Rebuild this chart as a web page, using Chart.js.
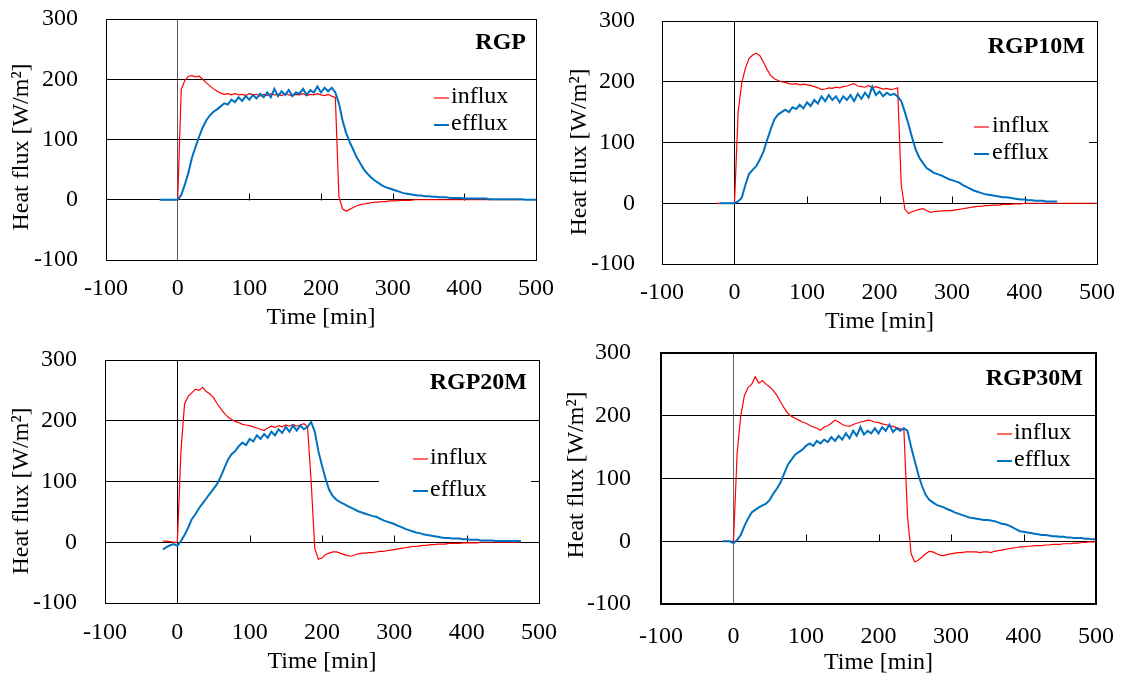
<!DOCTYPE html>
<html>
<head>
<meta charset="utf-8">
<script src="https://cdn.jsdelivr.net/npm/chart.js@4.4.0/dist/chart.umd.min.js"></script>
<style>
html,body{margin:0;padding:0;background:#fff;}
#wrap{position:relative;width:1126px;height:677px;overflow:hidden;}
#wrap canvas{position:absolute;}
</style>
</head>
<body>
<div id="wrap">
  <canvas id="c0"></canvas>
  <canvas id="c1"></canvas>
  <canvas id="c2"></canvas>
  <canvas id="c3"></canvas>
</div>
<script>
// time axis, every 5 min
const minutes = [
  -25,-20,-15,-10,-5,0,5,10,15,20,
  25,30,35,40,45,50,55,60,65,70,
  75,80,85,90,95,100,105,110,115,120,
  125,130,135,140,145,150,155,160,165,170,
  175,180,185,190,195,200,205,210,215,220,
  225,230,235,240,245,250,255,260,265,270,
  275,280,285,290,295,300,305,310,315,320,
  325,330,335,340,345,350,355,360,365,370,
  375,380,385,390,395,400,405,410,415,420,
  425,430,435,440,445,450,455,460,465,470,
  475,480,485,490,495,500
];
const xTicks = [-100,0,100,200,300,400,500];
const yTicks = [-100,0,100,200,300];
const seriesNames = ['influx','efflux'];
const panelNames = ['RGP','RGP10M','RGP20M','RGP30M'];
const xTitle = 'Time [min]';
const yTitle = 'Heat flux [W/m²]';

const rgpInflux = [
  0,0,0,0,0,0,183,198,205,206,
  204,205,200,194,189,184,180,177,175,176,
  174,176,174,175,173,176,174,175,172,175,
  173,176,174,175,173,176,174,173,175,174,
  176,173,175,174,176,174,173,175,172,170,
  5,-15,-19,-16,-13,-10,-8,-7,-6,-5,
  -4,-4,-3,-3,-2,-2,-2,-1,-1,-1,
  -1,0,0,0,0,0,0,0,0,0,
  0,0,0,0,0,0,0,0,0,0,
  0,0,0,0,0,0,0,0,0,0,
  0,0,null,null,null,null
];
const rgpEfflux = [
  0,0,0,0,0,0,8,25,45,70,
  88,105,120,132,140,146,150,155,160,158,
  166,162,170,164,172,166,174,168,176,170,
  178,170,184,172,180,174,182,172,178,176,
  184,174,182,178,188,178,186,180,186,178,
  160,132,111,96,83,70,60,50,43,37,
  32,28,24,21,19,17,15,13,11,10,
  9,8,7,7,6,6,5,5,4,4,
  4,3,3,3,3,2,2,2,2,2,
  2,2,1,1,1,1,1,1,1,1,
  1,1,0,0,0,0
];
const rgp10Influx = [
  0,0,0,0,0,0,150,198,222,238,
  244,247,243,232,220,210,205,202,200,199,
  197,196,197,195,196,195,194,192,190,187,
  188,190,189,191,190,192,193,195,197,193,
  192,191,194,190,192,190,188,189,187,188,
  190,30,-10,-17,-14,-12,-10,-9,-12,-15,
  -14,-13,-13,-12,-12,-12,-11,-10,-9,-8,
  -7,-6,-5,-5,-4,-4,-3,-3,-3,-2,
  -2,-2,-1,-1,-1,0,0,0,0,0,
  0,0,0,0,0,0,0,0,0,0,
  0,0,0,0,0,0
];
const rgp10Efflux = [
  null,0,0,0,0,0,3,9,30,48,
  55,61,72,85,104,122,138,146,150,154,
  150,158,155,162,156,166,160,170,164,176,
  168,178,170,176,166,176,170,178,168,180,
  172,182,174,192,178,184,176,182,178,180,
  176,168,150,130,108,88,75,66,58,54,
  50,48,46,43,40,38,36,34,30,27,
  24,21,19,17,15,14,13,12,11,10,
  10,9,8,7,6,6,5,5,4,4,
  4,3,3,3,3,null,null,null,null,null,
  null,null,null,null,null,null
];
const rgp20Influx = [
  null,2,2,1,0,0,150,228,240,246,
  252,250,255,248,244,238,228,220,212,206,
  202,199,197,194,193,192,190,188,186,184,
  188,191,189,192,190,193,191,194,191,193,
  195,190,100,-10,-28,-26,-20,-18,-16,-16,
  -18,-20,-22,-23,-21,-19,-18,-18,-17,-17,
  -16,-15,-15,-14,-13,-12,-11,-10,-9,-8,
  -7,-7,-6,-5,-5,-4,-4,-3,-3,-3,
  -2,-2,-2,-2,-1,-1,-1,-1,-1,0,
  0,0,0,0,0,0,0,0,0,0,
  0,null,null,null,null,null
];
const rgp20Efflux = [
  null,-12,-8,-5,-3,-6,2,12,24,38,
  46,56,64,72,80,88,96,108,122,136,
  145,150,158,164,160,170,166,176,170,178,
  172,182,176,186,180,190,182,192,184,192,
  186,190,198,182,150,126,104,86,76,70,
  66,63,60,57,54,51,49,47,45,43,
  42,39,36,34,32,30,27,25,22,20,
  18,16,15,13,12,11,10,9,8,7,
  7,6,6,6,5,5,4,4,4,3,
  3,3,3,2,2,2,2,2,2,2,
  2,null,null,null,null,null
];
const rgp30Influx = [
  null,null,0,0,0,0,140,200,232,245,
  250,262,252,256,250,246,240,232,222,212,
  204,199,196,193,190,188,185,182,180,177,
  182,184,188,193,190,186,184,183,186,188,
  190,191,193,192,190,189,187,186,184,183,
  181,179,178,40,-20,-33,-30,-25,-20,-16,
  -17,-20,-22,-23,-21,-20,-19,-18,-18,-17,
  -17,-17,-17,-18,-17,-17,-18,-16,-15,-14,
  -13,-12,-11,-10,-9,-9,-8,-8,-7,-7,
  -7,-6,-6,-5,-5,-5,-4,-4,-4,-3,
  -3,-2,-2,-1,-1,-1
];
const rgp30Efflux = [
  null,null,0,0,0,-3,2,10,24,36,
  46,50,54,57,60,66,76,84,94,108,
  122,130,138,142,146,152,156,152,160,156,
  162,158,166,160,168,162,172,164,176,168,
  182,170,176,172,180,172,182,176,186,174,
  180,176,180,176,150,128,106,88,74,66,
  62,58,56,54,51,49,46,44,42,40,
  38,37,36,35,34,34,33,32,30,28,
  27,25,22,19,16,15,14,13,12,11,
  10,10,9,8,8,7,7,6,6,5,
  5,5,4,4,3,3
];

const FONT = "'Liberation Serif','Times New Roman',serif";
const RED = '#ff0000';
const BLUE = '#0070c0';

// page geometry of each panel (canvas box, plot area, text spots)
const panels = [
  {influx: rgpInflux, efflux: rgpEfflux,
   canvas: [0, 0, 563, 338], area: [106, 19, 536, 260],
   yPad: 28, yTitleAt: [22, 147], xPad: 14.6, xTitlePad: 5.6,
   title: [526, 43], legend: {dash: [434, 449], text: 451, rows: [97, 124], box: [428, 83, 533, 137]},
   frame: 1, axisColor: '#555'},
  {influx: rgp10Influx, efflux: rgp10Efflux,
   canvas: [563, 0, 563, 338], area: [662, 21, 1097, 264],
   yPad: 27, yTitleAt: [580, 152], xPad: 14.6, xTitlePad: 1.6,
   title: [1085, 47], legend: {dash: [974, 989], text: 992, rows: [126, 153], box: [943, 108, 1089, 170]},
   frame: 1, axisColor: '#000'},
  {influx: rgp20Influx, efflux: rgp20Efflux,
   canvas: [0, 338, 563, 339], area: [105, 360, 539, 603],
   yPad: 28, yTitleAt: [22, 491], xPad: 15.6, xTitlePad: 0.6,
   title: [527, 383], legend: {dash: [413, 428], text: 430, rows: [458, 490], box: [379, 440, 531, 508]},
   frame: 1, axisColor: '#000'},
  {influx: rgp30Influx, efflux: rgp30Efflux,
   canvas: [563, 338, 563, 339], area: [661, 353, 1096, 604],
   yPad: 30, yTitleAt: [577, 475], xPad: 18.6, xTitlePad: 0,
   title: [1083, 379], legend: {dash: [997, 1012], text: 1014, rows: [433, 460], box: [990, 419, 1090, 474]},
   frame: 2, axisColor: '#666'}
];

function makeDecor(p, name) {
  const ox = p.canvas[0], oy = p.canvas[1];
  return {
    id: 'decor',
    beforeDatasetsDraw(chart) {
      const {ctx, scales: {x, y}} = chart;
      ctx.save();
      // legend backdrop hides the gridline behind it
      const b = p.legend.box;
      ctx.fillStyle = '#fff';
      ctx.fillRect(b[0] - ox, b[1] - oy, b[2] - b[0], b[3] - b[1]);
      // small tick marks sitting on the zero line
      const y0 = Math.round(y.getPixelForValue(0)) + 0.5;
      ctx.strokeStyle = '#000';
      ctx.lineWidth = 1;
      ctx.beginPath();
      xTicks.forEach(v => {
        if (v <= 0 || v >= 500) return;
        const px = Math.round(x.getPixelForValue(v)) + 0.5;
        ctx.moveTo(px, y0);
        ctx.lineTo(px, y0 - 7);
      });
      ctx.stroke();
      ctx.restore();
    },
    afterDatasetsDraw(chart) {
      const {ctx, chartArea: a} = chart;
      ctx.save();
      // plot frame
      ctx.strokeStyle = '#000';
      ctx.lineWidth = p.frame;
      const off = p.frame % 2 ? 0.5 : 0;
      ctx.strokeRect(Math.round(a.left) + off, Math.round(a.top) + off,
                     Math.round(a.right) - Math.round(a.left), Math.round(a.bottom) - Math.round(a.top));
      // legend
      ctx.textBaseline = 'middle';
      ctx.textAlign = 'left';
      ctx.font = '24px ' + FONT;
      chart.data.datasets.forEach((ds, i) => {
        const ry = p.legend.rows[i] - oy;
        ctx.strokeStyle = ds.borderColor;
        ctx.lineWidth = ds.borderWidth;
        ctx.beginPath();
        ctx.moveTo(p.legend.dash[0] - ox, ry + 1);
        ctx.lineTo(p.legend.dash[1] - ox, ry + 1);
        ctx.stroke();
        ctx.fillStyle = '#000';
        ctx.fillText(ds.label, p.legend.text - ox, ry);
      });
      // y axis title (sits a bit below the plot centre in the original)
      ctx.save();
      ctx.translate(p.yTitleAt[0] - ox, p.yTitleAt[1] - oy);
      ctx.rotate(-Math.PI / 2);
      ctx.textAlign = 'center';
      ctx.fillText(yTitle, 0, 0);
      ctx.restore();
      // panel name
      ctx.font = 'bold 24px ' + FONT;
      ctx.textAlign = 'right';
      ctx.fillText(name, p.title[0] - ox, p.title[1] - oy);
      ctx.restore();
    }
  };
}

panels.forEach((p, idx) => {
  const cv = document.getElementById('c' + idx);
  const [cx, cy, cw, ch] = p.canvas;
  const [al, at, ar, ab] = p.area;
  cv.width = cw; cv.height = ch;
  cv.style.left = cx + 'px'; cv.style.top = cy + 'px';
  cv.style.width = cw + 'px'; cv.style.height = ch + 'px';

  const pts = arr => minutes.map((m, i) => ({x: m, y: arr[i]}));
  const tickFont = {family: FONT, size: 24};

  new Chart(cv.getContext('2d'), {
    type: 'line',
    data: {
      datasets: [
        {label: seriesNames[0], data: pts(p.influx), borderColor: RED, backgroundColor: RED,
         borderWidth: 1.2, pointRadius: 0, tension: 0, order: 1, spanGaps: false},
        {label: seriesNames[1], data: pts(p.efflux), borderColor: BLUE, backgroundColor: BLUE,
         borderWidth: 2, pointRadius: 0, tension: 0, order: 0, spanGaps: false}
      ]
    },
    options: {
      responsive: false,
      animation: false,
      devicePixelRatio: 1,
      events: [],
      layout: {padding: {left: 0, bottom: 0, top: at - cy, right: cx + cw - ar}},
      plugins: {legend: {display: false}, tooltip: {enabled: false}},
      scales: {
        x: {
          type: 'linear', min: -100, max: 500,
          afterBuildTicks: s => { s.ticks = xTicks.map(v => ({value: v})); },
          afterFit: s => { s.height = cy + ch - ab; s.paddingLeft = 0; s.paddingRight = 0; },
          border: {display: false},
          grid: {drawTicks: false, lineWidth: 1,
                 color: c => (c.tick && c.tick.value === 0) ? p.axisColor : 'rgba(0,0,0,0)'},
          ticks: {font: tickFont, color: '#000', padding: p.xPad, maxRotation: 0, autoSkip: false},
          title: {display: true, text: xTitle, color: '#000', font: tickFont,
                  padding: {top: 0, bottom: p.xTitlePad}}
        },
        y: {
          type: 'linear', min: -100, max: 300,
          afterBuildTicks: s => { s.ticks = yTicks.map(v => ({value: v})); },
          afterFit: s => { s.width = al - cx; s.paddingTop = 0; s.paddingBottom = 0; },
          border: {display: false},
          grid: {drawTicks: false, lineWidth: 1,
                 color: c => (c.tick && (c.tick.value === -100 || c.tick.value === 300)) ? 'rgba(0,0,0,0)' : '#000'},
          ticks: {font: tickFont, color: '#000', padding: p.yPad, autoSkip: false}
        }
      }
    },
    plugins: [makeDecor(p, panelNames[idx])]
  });
});
</script>
</body>
</html>
